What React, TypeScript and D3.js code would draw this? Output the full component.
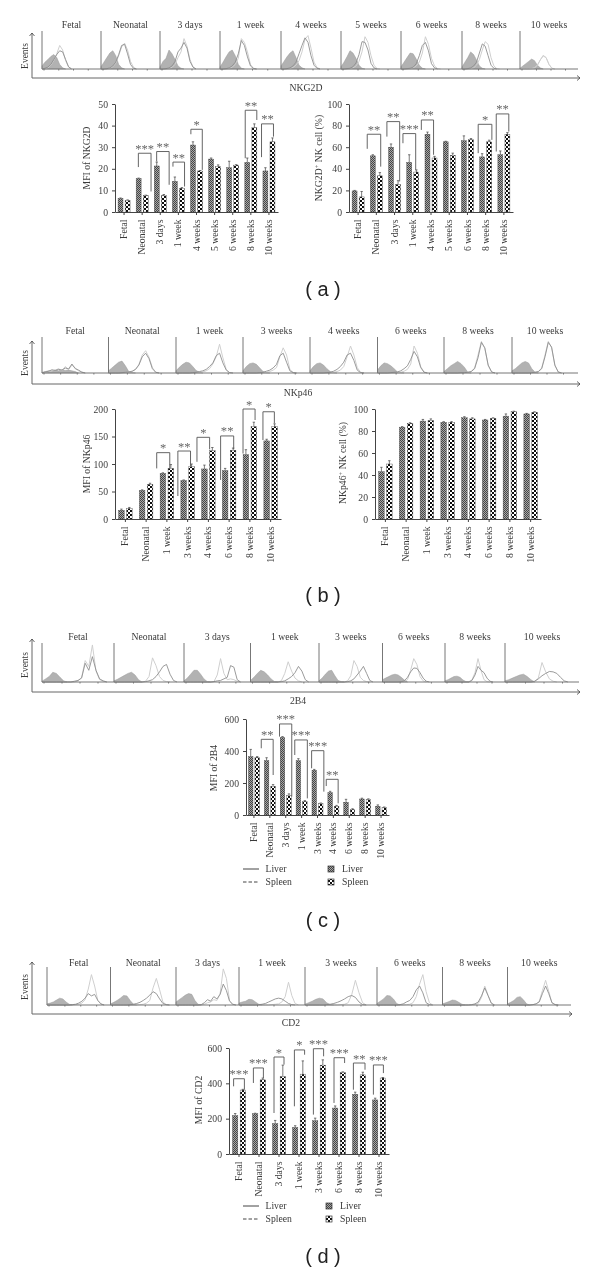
import { useEffect, useRef } from "react";
import * as d3 from "d3";

const SERIF = "'Liberation Serif', serif";
const INK = "#3a3a3a";

// ---- flow cytometry strips (heights in % of panel height, one value per 5% of panel width)
const aTitles = ["Fetal", "Neonatal", "3 days", "1 week", "4 weeks", "5 weeks", "6 weeks", "8 weeks", "10 weeks"];
const aControl = [
  [8, 18, 25, 33, 38, 30, 12, 3, 0],
  [6, 18, 30, 42, 48, 35, 12, 3, 0],
  [5, 20, 28, 50, 40, 25, 8, 2, 0],
  [5, 18, 32, 45, 50, 35, 12, 2, 0],
  [8, 20, 32, 42, 48, 30, 10, 3, 0],
  [6, 18, 32, 48, 42, 28, 10, 2, 0],
  [6, 18, 30, 42, 40, 26, 10, 2, 0],
  [5, 18, 30, 45, 38, 24, 8, 2, 0],
  [2, 8, 14, 20, 26, 22, 10, 3, 0],
];
const aLiver = [
  [0, 2, 5, 12, 25, 38, 48, 45, 25, 6, 0],
  [0, 0, 1, 3, 8, 18, 38, 62, 65, 40, 12, 2, 0],
  [0, 0, 1, 3, 8, 20, 45, 55, 70, 55, 20, 5, 0],
  [0, 0, 1, 3, 8, 18, 40, 75, 62, 32, 8, 1, 0],
  [0, 0, 1, 3, 8, 18, 40, 62, 82, 70, 35, 10, 2, 0],
  [0, 0, 1, 2, 6, 16, 38, 72, 70, 50, 15, 3, 0],
  [0, 0, 1, 2, 5, 14, 35, 62, 70, 48, 14, 3, 0],
  [0, 0, 1, 3, 8, 18, 42, 66, 60, 35, 10, 2, 0],
  [0, 0, 0, 0, 1, 3, 10, 24, 34, 30, 12, 2, 0],
];
const aSpleen = [
  [0, 0, 3, 10, 22, 40, 62, 50, 22, 5, 1],
  [0, 0, 0, 2, 6, 15, 35, 58, 68, 50, 20, 5, 0],
  [0, 0, 0, 2, 4, 12, 30, 45, 80, 60, 25, 5, 0],
  [0, 0, 0, 2, 5, 12, 28, 80, 70, 45, 12, 2, 0],
  [0, 0, 0, 1, 4, 10, 22, 45, 78, 88, 55, 18, 4, 0],
  [0, 0, 0, 1, 3, 8, 20, 45, 85, 70, 35, 10, 1, 0],
  [0, 0, 0, 1, 3, 8, 18, 42, 85, 65, 28, 8, 1, 0],
  [0, 0, 0, 1, 3, 10, 25, 50, 72, 65, 30, 8, 1, 0],
  [0, 0, 0, 0, 1, 3, 10, 24, 36, 30, 12, 2, 0],
];

const bTitles = ["Fetal", "Neonatal", "1 week", "3 weeks", "4 weeks", "6 weeks", "8 weeks", "10 weeks"];
const bControl = [
  [2, 4, 6, 5, 8, 6, 9, 7, 8, 6, 4, 0],
  [6, 14, 22, 30, 33, 20, 4, 1, 0],
  [6, 16, 24, 30, 28, 18, 7, 2, 0],
  [6, 18, 26, 28, 24, 14, 4, 1, 0],
  [6, 18, 26, 28, 22, 12, 4, 1, 0],
  [8, 20, 28, 26, 20, 12, 3, 1, 0],
  [4, 12, 20, 26, 32, 26, 16, 2, 0],
  [6, 12, 20, 28, 32, 28, 12, 2, 0],
];
const bLiver = [
  [0, 3, 5, 9, 7, 10, 8, 14, 11, 25, 12, 8, 2, 0],
  [0, 0, 0, 0, 1, 2, 3, 5, 10, 22, 45, 55, 40, 12, 2, 0],
  [0, 0, 0, 0, 0, 1, 2, 4, 6, 10, 18, 28, 48, 55, 28, 8, 1, 0],
  [0, 0, 0, 0, 0, 1, 2, 5, 8, 14, 24, 48, 55, 30, 6, 1, 0],
  [0, 0, 0, 0, 0, 1, 2, 5, 10, 18, 30, 50, 55, 35, 8, 1, 0],
  [0, 0, 0, 0, 1, 2, 3, 6, 12, 20, 38, 60, 45, 15, 2, 0],
  [0, 0, 0, 0, 0, 1, 1, 2, 4, 12, 42, 85, 70, 22, 3, 0],
  [0, 0, 0, 0, 0, 0, 1, 2, 4, 12, 45, 85, 72, 22, 3, 0],
];
const bSpleen = [
  [0, 2, 4, 6, 8, 12, 6, 18, 10, 22, 14, 6, 3, 0],
  [0, 0, 0, 0, 0, 1, 2, 4, 10, 24, 50, 62, 44, 15, 2, 0],
  [0, 0, 0, 0, 0, 0, 1, 2, 3, 6, 12, 25, 45, 80, 42, 10, 1, 0],
  [0, 0, 0, 0, 0, 0, 1, 2, 4, 8, 15, 45, 70, 50, 10, 1, 0],
  [0, 0, 0, 0, 0, 0, 1, 2, 4, 8, 18, 45, 75, 50, 15, 2, 0],
  [0, 0, 0, 0, 0, 0, 1, 2, 5, 10, 25, 75, 55, 18, 3, 0],
  [0, 0, 0, 0, 0, 0, 1, 2, 4, 14, 50, 88, 68, 20, 3, 0],
  [0, 0, 0, 0, 0, 0, 1, 2, 4, 14, 50, 88, 70, 20, 3, 0],
];

const cTitles = ["Fetal", "Neonatal", "3 days", "1 week", "3 weeks", "6 weeks", "8 weeks", "10 weeks"];
const cControl = [
  [2, 8, 14, 25, 22, 12, 3, 0],
  [3, 7, 12, 17, 22, 25, 18, 6, 0],
  [3, 10, 20, 30, 30, 20, 8, 1, 0],
  [4, 12, 22, 30, 26, 18, 8, 1, 0],
  [3, 10, 20, 28, 30, 16, 4, 1, 0],
  [6, 10, 14, 18, 20, 18, 12, 5, 0],
  [3, 6, 10, 14, 15, 12, 5, 1, 0],
  [3, 6, 10, 14, 18, 20, 14, 6, 0],
];
const cLiver = [
  [0, 0, 0, 0, 0, 0, 0, 0, 0, 2, 4, 10, 48, 30, 65, 30, 8, 3, 0],
  [0, 0, 0, 0, 0, 0, 0, 0, 0, 1, 3, 6, 14, 26, 40, 45, 20, 4, 0],
  [0, 0, 0, 0, 0, 0, 0, 0, 0, 1, 3, 4, 8, 12, 42, 38, 6, 0],
  [0, 0, 0, 0, 0, 0, 0, 0, 0, 1, 3, 8, 14, 24, 40, 28, 6, 0],
  [0, 0, 0, 0, 0, 0, 0, 0, 0, 1, 3, 8, 18, 28, 40, 22, 4, 0],
  [0, 0, 0, 0, 0, 0, 1, 3, 12, 26, 36, 35, 24, 10, 2, 0],
  [0, 0, 0, 0, 0, 0, 0, 0, 0, 4, 18, 40, 30, 24, 10, 2, 0],
  [0, 0, 0, 0, 0, 0, 0, 0, 2, 8, 16, 22, 27, 26, 22, 12, 3, 0],
];
const cSpleen = [
  [0, 0, 0, 0, 0, 0, 0, 0, 0, 0, 3, 12, 55, 40, 95, 28, 6, 2, 0],
  [0, 0, 0, 0, 0, 0, 0, 0, 0, 2, 14, 62, 42, 14, 4, 1, 0],
  [0, 0, 0, 0, 0, 0, 0, 0, 0, 1, 18, 60, 22, 6, 8, 6, 2, 0],
  [0, 0, 0, 0, 0, 0, 0, 0, 0, 3, 22, 52, 28, 10, 3, 0],
  [0, 0, 0, 0, 0, 0, 0, 0, 0, 3, 16, 55, 40, 12, 4, 1, 0],
  [0, 0, 0, 0, 0, 0, 0, 1, 6, 30, 60, 45, 14, 3, 0],
  [0, 0, 0, 0, 0, 0, 0, 0, 1, 6, 24, 60, 30, 6, 1, 0],
  [0, 0, 0, 0, 0, 0, 0, 0, 1, 10, 50, 26, 8, 2, 0],
];

const dTitles = ["Fetal", "Neonatal", "3 days", "1 week", "3 weeks", "6 weeks", "8 weeks", "10 weeks"];
const dControl = [
  [3, 5, 8, 13, 18, 16, 8, 2, 0],
  [3, 7, 12, 18, 25, 24, 12, 2, 0],
  [8, 14, 20, 26, 30, 28, 12, 2, 0],
  [5, 8, 10, 15, 14, 8, 2, 0],
  [2, 6, 10, 15, 18, 16, 6, 1, 0],
  [4, 10, 16, 25, 24, 16, 4, 0],
  [3, 6, 9, 13, 12, 7, 2, 0],
  [3, 7, 12, 20, 22, 14, 3, 0],
];
const dLiver = [
  [0, 0, 0, 0, 0, 0, 0, 0, 1, 2, 5, 10, 18, 30, 24, 28, 12, 3, 0],
  [0, 0, 0, 0, 0, 0, 1, 2, 4, 7, 12, 18, 26, 35, 30, 16, 4, 1, 0],
  [0, 0, 0, 0, 0, 0, 0, 0, 1, 6, 14, 10, 22, 16, 28, 55, 38, 10, 2, 0],
  [0, 0, 0, 0, 0, 0, 1, 2, 4, 8, 12, 16, 18, 16, 10, 4, 1, 0],
  [0, 0, 0, 0, 0, 0, 1, 2, 4, 7, 11, 16, 22, 25, 20, 8, 1, 0],
  [0, 0, 0, 0, 0, 0, 0, 1, 3, 8, 12, 22, 40, 50, 32, 6, 1, 0],
  [0, 0, 0, 0, 0, 0, 0, 0, 0, 1, 3, 8, 24, 45, 25, 5, 0],
  [0, 0, 0, 0, 0, 0, 0, 0, 1, 3, 8, 30, 50, 30, 6, 1, 0],
];
const dSpleen = [
  [0, 0, 0, 0, 0, 0, 0, 0, 0, 1, 2, 5, 14, 42, 80, 50, 12, 2, 0],
  [0, 0, 0, 0, 0, 0, 0, 0, 0, 1, 2, 5, 12, 45, 70, 40, 8, 1, 0],
  [0, 0, 0, 0, 0, 0, 0, 0, 0, 2, 6, 8, 14, 12, 30, 95, 70, 12, 2, 0],
  [0, 0, 0, 0, 0, 0, 0, 0, 0, 0, 1, 2, 3, 8, 22, 60, 25, 4, 0],
  [0, 0, 0, 0, 0, 0, 0, 0, 0, 0, 1, 2, 6, 28, 65, 32, 6, 0],
  [0, 0, 0, 0, 0, 0, 0, 0, 0, 1, 2, 6, 22, 55, 80, 35, 6, 0],
  [0, 0, 0, 0, 0, 0, 0, 0, 0, 0, 1, 4, 20, 50, 26, 5, 0],
  [0, 0, 0, 0, 0, 0, 0, 0, 1, 3, 10, 38, 65, 36, 6, 1, 0],
];

// ---- bar charts: [value] and upward error per category
const a1Cats = ["Fetal", "Neonatal", "3 days", "1 week", "4 weeks", "5 weeks", "6 weeks", "8 weeks", "10 weeks"];
const a1Liver = [6.3, 15.5, 21.3, 14.2, 31, 24.5, 20.5, 23, 19];
const a1LiverErr = [0.2, 0.2, 1.8, 2, 1.5, 0.5, 3, 2, 1.5];
const a1Spleen = [5.3, 7.6, 7.6, 11, 19, 21, 21.7, 39, 32.5];
const a1SpleenErr = [0.3, 0.2, 0.5, 0.3, 0.2, 0.8, 0.2, 1.8, 1.8];
// left pos, right pos (in category units), top value, left foot, right foot, stars
const a1Brackets = [
  [1.29, 1.99, 27.2, 20.8, 9.5, "***"],
  [2.3, 2.99, 28, 23.4, 12.6, "**"],
  [3.2, 3.84, 23.1, 21, 11.8, "**"],
  [4.19, 4.82, 38.3, 36, 19.5, "*"],
  [7.19, 7.83, 47.1, 24.9, 42.6, "**"],
  [8.09, 8.75, 40.8, 25.4, 34.9, "**"],
];

const a2Liver = [19.5, 52, 60, 46, 72, 65, 66, 51, 53];
const a2LiverErr = [0.5, 1, 3, 7, 2, 0.5, 4.5, 3, 3.5];
const a2Spleen = [14, 33.5, 25.5, 37, 50, 52.5, 67, 65, 72];
const a2SpleenErr = [5, 3, 3.5, 2, 1.5, 2, 1, 1.5, 1.5];
const a2Brackets = [
  [1.0, 1.74, 72, 58.5, 42, "**"],
  [2.08, 2.78, 83.7, 69.8, 28.3, "**"],
  [2.96, 3.66, 72.6, 63.7, 39, "***"],
  [3.97, 4.64, 85.2, 76, 53, "**"],
  [7.09, 7.84, 81.2, 54.5, 66.8, "*"],
  [8.08, 8.77, 90.8, 56, 74.5, "**"],
];

const b1Cats = ["Fetal", "Neonatal", "1 week", "3 weeks", "4 weeks", "6 weeks", "8 weeks", "10 weeks"];
const b1Liver = [16, 52, 83, 70, 91, 88, 117, 142];
const b1LiverErr = [2, 1, 1, 1, 7, 4, 9, 3];
const b1Spleen = [19, 63, 92, 95, 124, 125, 168, 168];
const b1SpleenErr = [2, 2, 7, 5, 6, 4, 8, 5];
const b1Brackets = [
  [2.01, 2.64, 120.6, 92, 92, "*"],
  [3.03, 3.64, 123.6, 41.8, 96, "**"],
  [3.95, 4.56, 148.5, 104, 126.7, "*"],
  [5.09, 5.72, 151, 71, 126.7, "**"],
  [6.17, 6.75, 200, 119, 180, "*"],
  [7.13, 7.68, 195, 143.6, 174, "*"],
];

const b2Liver = [43, 83.5, 89, 88, 92, 90, 93.5, 95.5];
const b2LiverErr = [4, 0.5, 1.5, 0.5, 1, 0.5, 2, 0.5];
const b2Spleen = [50, 87, 89.5, 88, 91, 91.5, 97.5, 97];
const b2SpleenErr = [3, 0.5, 1.5, 0.5, 1, 0.5, 0.5, 0.5];

const cCats = ["Fetal", "Neonatal", "3 days", "1 week", "3 weeks", "4 weeks", "6 weeks", "8 weeks", "10 weeks"];
const cLiverBars = [365, 340, 485, 340, 280, 140, 80, 100, 55];
const cLiverErr = [45, 18, 5, 12, 5, 8, 18, 5, 8];
const cSpleenBars = [360, 180, 120, 85, 70, 55, 35, 95, 45];
const cSpleenErr = [5, 10, 12, 5, 5, 5, 4, 6, 5];
const cBrackets = [
  [0.96, 1.71, 473, 417, 250, "**"],
  [2.11, 2.88, 569, 490, 115, "***"],
  [3.07, 3.86, 469, 375, 104, "***"],
  [4.13, 4.9, 402, 292, 146, "***"],
  [5.05, 5.8, 223, 181, 73, "**"],
];

const dCats = ["Fetal", "Neonatal", "3 days", "1 week", "3 weeks", "6 weeks", "8 weeks", "10 weeks"];
const dLiverBars = [217, 228, 172, 150, 188, 260, 338, 306];
const dLiverErr = [12, 3, 18, 10, 15, 12, 12, 10];
const dSpleenBars = [362, 420, 438, 452, 503, 460, 448, 430];
const dSpleenErr = [4, 10, 65, 75, 30, 5, 15, 3];
const dBrackets = [
  [0.23, 0.77, 426, 383, 364, "***"],
  [1.22, 1.72, 487, 402, 430, "***"],
  [2.25, 2.75, 549, 232, 506, "*"],
  [3.27, 3.78, 589, 270, 562, "*"],
  [4.22, 4.73, 596, 223, 553, "***"],
  [5.25, 5.78, 545, 289, 515, "***"],
  [6.22, 6.8, 515, 364, 477, "**"],
  [7.22, 7.72, 504, 336, 458, "***"],
];

const series = ["Liver", "Spleen"];

function drawStrip(svg, o) {
  const g = svg.append("g");
  const marks = g.append("g").attr("filter", "url(#soft)");
  o.xs.forEach((px, i) => {
    const right = i < o.xs.length - 1 ? o.xs[i + 1] : o.end;
    const x = d3.scaleLinear().domain([0, 100]).range([px, right]);
    const y = d3.scaleLinear().domain([0, 100]).range([o.base, o.top]);
    const xi = (_, k) => x(k * 5);
    const area = d3.area().x(xi).y0(o.base).y1((v) => y(v));
    const line = d3.line().x(xi).y((v) => y(v));
    marks.append("path").attr("d", area(o.control[i])).attr("fill", "#b2b2b2").attr("stroke", "#999").attr("stroke-width", 0.5);
    marks.append("path").attr("d", line(o.spleen[i])).attr("fill", "none").attr("stroke", "#cfcfcf").attr("stroke-width", 1);
    marks.append("path").attr("d", line(o.liver[i])).attr("fill", "none").attr("stroke", o.lightLast && i === o.xs.length - 1 ? "#cfcfcf" : "#8f8f8f").attr("stroke-width", 0.9);
    // panel axes
    g.append("line").attr("x1", px).attr("x2", px).attr("y1", o.top).attr("y2", o.base).attr("stroke", "#777");
    g.append("line").attr("x1", px).attr("x2", right).attr("y1", o.base).attr("y2", o.base).attr("stroke", "#777");
    g.selectAll(null)
      .data([0, 25, 50, 75])
      .enter()
      .append("line")
      .attr("x1", (d) => x(d) + 2)
      .attr("x2", (d) => x(d) + 2)
      .attr("y1", o.base)
      .attr("y2", o.base + 1.5)
      .attr("stroke", "#777");
    g.append("text")
      .attr("x", (px + right) / 2)
      .attr("y", o.titleY)
      .attr("text-anchor", "middle")
      .attr("dy", "0.32em")
      .attr("font-family", SERIF)
      .attr("font-size", 9.7)
      .attr("fill", INK)
      .text(o.titles[i]);
  });
  // shared event / marker arrows
  g.append("path")
    .attr("d", `M32,${o.arrowTop}V${o.axisY}H${o.axisEnd}`)
    .attr("fill", "none")
    .attr("stroke", "#666")
    .attr("stroke-width", 1);
  g.append("path")
    .attr("d", `M29.5,${o.arrowTop + 3}L32,${o.arrowTop}L34.5,${o.arrowTop + 3}M${o.axisEnd - 3},${o.axisY - 2.5}L${o.axisEnd},${o.axisY}L${o.axisEnd - 3},${o.axisY + 2.5}`)
    .attr("fill", "none")
    .attr("stroke", "#444")
    .attr("stroke-width", 0.8);
  g.append("text")
    .attr("transform", `translate(25,${o.eventsY}) rotate(-90)`)
    .attr("text-anchor", "middle")
    .attr("dy", "0.32em")
    .attr("font-family", SERIF)
    .attr("font-size", 9.5)
    .attr("fill", INK)
    .text("Events");
  g.append("text")
    .attr("x", o.labelX)
    .attr("y", o.labelY)
    .attr("text-anchor", "middle")
    .attr("dy", "0.32em")
    .attr("font-family", SERIF)
    .attr("font-size", 9.7)
    .attr("fill", INK)
    .text(o.label);
}

function drawBars(svg, o) {
  const g = svg.append("g");
  const x = d3.scaleBand().domain(o.cats).range([o.x0, o.x1]);
  const pos = d3.scaleLinear().domain([0, o.cats.length]).range([o.x0, o.x1]);
  const y = d3.scaleLinear().domain([0, o.max]).range([o.y0, o.yTop]);
  const inner = d3.scaleBand().domain(series).range([-o.pair / 2, o.pair / 2]).paddingInner(0.3);

  series.forEach((s, k) => {
    const vals = k === 0 ? o.liver : o.spleen;
    const errs = k === 0 ? o.liverErr : o.spleenErr;
    const cx = (i) => x(o.cats[i]) + x.bandwidth() / 2 + inner(s) + inner.bandwidth() / 2;
    const grp = g.append("g");
    grp.selectAll("line.err")
      .data(vals)
      .enter()
      .append("path")
      .attr("d", (d, i) => `M${cx(i)},${y(d)}V${y(d + errs[i])}M${cx(i) - 1.2},${y(d + errs[i])}H${cx(i) + 1.2}`)
      .attr("fill", "none")
      .attr("stroke", "#444")
      .attr("stroke-width", 0.7);
    grp.append("g")
      .attr("filter", "url(#softer)")
      .selectAll("rect")
      .data(vals)
      .enter()
      .append("rect")
      .attr("x", (d, i) => cx(i) - inner.bandwidth() / 2)
      .attr("y", (d) => y(d))
      .attr("width", inner.bandwidth())
      .attr("height", (d) => y(0) - y(d))
      .attr("fill", k === 0 ? "url(#liverFill)" : "url(#spleenFill)")
      .attr("stroke", "#444")
      .attr("stroke-width", 0.4);
  });

  const yAxis = g.append("g")
    .attr("transform", `translate(${o.x0},0)`)
    .call(d3.axisLeft(y).tickValues(d3.range(0, o.max + 1, o.step)).tickSize(3).tickPadding(4).tickSizeOuter(0));
  const xAxis = g.append("g")
    .attr("transform", `translate(0,${o.y0})`)
    .call(d3.axisBottom(x).tickSize(3).tickSizeOuter(0));
  [yAxis, xAxis].forEach((a) => {
    a.attr("font-family", SERIF).attr("font-size", 9.7);
    a.selectAll("path,line").attr("stroke", "#444");
    a.selectAll("text").attr("fill", INK);
  });
  xAxis.selectAll("text")
    .attr("transform", "rotate(-90)")
    .attr("x", -7.5)
    .attr("y", 0)
    .attr("dy", "0.32em")
    .style("text-anchor", "end");

  // significance brackets
  (o.brackets || []).forEach(([l, r, top, footL, footR, stars]) => {
    g.append("path")
      .attr("d", `M${pos(l)},${y(footL)}V${y(top)}H${pos(r)}V${y(footR)}`)
      .attr("fill", "none")
      .attr("stroke", "#555")
      .attr("stroke-width", 0.9);
    g.append("text")
      .attr("x", (pos(l) + pos(r)) / 2)
      .attr("y", y(top) - 0.5)
      .attr("text-anchor", "middle")
      .attr("font-family", SERIF)
      .attr("font-size", 12.6)
      .attr("fill", "#666")
      .text(stars);
  });

  // y title, superscript when asked
  const title = g.append("text")
    .attr("transform", `translate(${o.titleX},${o.titleY}) rotate(-90)`)
    .attr("text-anchor", "middle")
    .attr("dy", "0.32em")
    .attr("font-family", SERIF)
    .attr("font-size", 9.7)
    .attr("fill", INK);
  title.append("tspan").text(o.title[0]);
  if (o.title[1]) {
    title.append("tspan").attr("font-size", 6.5).attr("dy", "-3").text("+");
    title.append("tspan").attr("dy", "3").text(o.title[1]);
  }
}

function drawLegend(svg, o) {
  const g = svg.append("g").attr("font-family", SERIF).attr("font-size", 9.7).attr("fill", INK);
  series.forEach((s, i) => {
    const yy = o.y + i * 13;
    g.append("line")
      .attr("x1", o.lineX)
      .attr("x2", o.lineX + 16)
      .attr("y1", yy)
      .attr("y2", yy)
      .attr("stroke", "#444")
      .attr("stroke-dasharray", i === 0 ? null : "3.5 2");
    g.append("text").attr("x", o.lineX + 22.5).attr("y", yy).attr("dy", "0.32em").text(s);
    g.append("rect")
      .attr("x", o.boxX)
      .attr("y", yy - 3)
      .attr("width", 6)
      .attr("height", 6)
      .attr("fill", i === 0 ? "url(#liverFill)" : "url(#spleenFill)")
      .attr("stroke", "#333")
      .attr("stroke-width", 0.7);
    g.append("text").attr("x", o.boxX + 14).attr("y", yy).attr("dy", "0.32em").text(s);
  });
}

function drawTag(svg, text, y) {
  svg.append("text")
    .attr("x", 323)
    .attr("y", y)
    .attr("text-anchor", "middle")
    .attr("dy", "0.32em")
    .attr("font-family", "'Liberation Sans', sans-serif")
    .attr("font-size", 20)
    .attr("fill", "#222")
    .text(text);
}

export default function App() {
  const svgRef = useRef(null);

  useEffect(() => {
    const svg = d3.select(svgRef.current);
    svg.selectAll("*").remove();

    const defs = svg.append("defs");
    defs.append("filter").attr("id", "soft").append("feGaussianBlur").attr("stdDeviation", 0.35);
    defs.append("filter").attr("id", "softer").append("feGaussianBlur").attr("stdDeviation", 0.25);
    const liver = defs.append("pattern").attr("id", "liverFill").attr("patternUnits", "userSpaceOnUse").attr("width", 2).attr("height", 2);
    liver.append("rect").attr("width", 2).attr("height", 2).attr("fill", "#a8a8a8");
    liver.append("rect").attr("width", 1).attr("height", 1).attr("fill", "#444");
    liver.append("rect").attr("x", 1).attr("y", 1).attr("width", 1).attr("height", 1).attr("fill", "#444");
    const spleen = defs.append("pattern").attr("id", "spleenFill").attr("patternUnits", "userSpaceOnUse").attr("width", 4).attr("height", 4);
    spleen.append("rect").attr("width", 4).attr("height", 4).attr("fill", "#fff");
    spleen.append("rect").attr("width", 2).attr("height", 2).attr("fill", "#111");
    spleen.append("rect").attr("x", 2).attr("y", 2).attr("width", 2).attr("height", 2).attr("fill", "#111");

    drawStrip(svg, {
      titles: aTitles, control: aControl, liver: aLiver, spleen: aSpleen, lightLast: true,
      xs: [42, 101, 160, 220, 281, 341, 401, 462, 520], end: 578,
      top: 31, base: 69, axisY: 78, arrowTop: 33, axisEnd: 580, eventsY: 56, titleY: 25,
      label: "NKG2D", labelX: 306, labelY: 87.5,
    });
    drawBars(svg, {
      cats: a1Cats, liver: a1Liver, liverErr: a1LiverErr, spleen: a1Spleen, spleenErr: a1SpleenErr, brackets: a1Brackets,
      x0: 115, x1: 278, y0: 212, yTop: 104, max: 50, step: 10, pair: 12,
      title: ["MFI of NKG2D"], titleX: 87, titleY: 158,
    });
    drawBars(svg, {
      cats: a1Cats, liver: a2Liver, liverErr: a2LiverErr, spleen: a2Spleen, spleenErr: a2SpleenErr, brackets: a2Brackets,
      x0: 349, x1: 513, y0: 212, yTop: 104, max: 100, step: 20, pair: 12,
      title: ["NKG2D", " NK cell (%)"], titleX: 319, titleY: 158,
    });
    drawTag(svg, "( a )", 290);

    drawStrip(svg, {
      titles: bTitles, control: bControl, liver: bLiver, spleen: bSpleen,
      xs: [42, 108.5, 176, 243, 310, 377.5, 444, 512], end: 578,
      top: 337, base: 373, axisY: 384, arrowTop: 341, axisEnd: 580, eventsY: 363, titleY: 331,
      label: "NKp46", labelX: 298, labelY: 393,
    });
    drawBars(svg, {
      cats: b1Cats, liver: b1Liver, liverErr: b1LiverErr, spleen: b1Spleen, spleenErr: b1SpleenErr, brackets: b1Brackets,
      x0: 115, x1: 281, y0: 519, yTop: 409, max: 200, step: 50, pair: 13.5,
      title: ["MFI of NKp46"], titleX: 87, titleY: 464,
    });
    drawBars(svg, {
      cats: b1Cats, liver: b2Liver, liverErr: b2LiverErr, spleen: b2Spleen, spleenErr: b2SpleenErr,
      x0: 375, x1: 541, y0: 519, yTop: 409, max: 100, step: 20, pair: 13.5,
      title: ["NKp46", " NK cell (%)"], titleX: 343, titleY: 463,
    });
    drawTag(svg, "( b )", 596);

    drawStrip(svg, {
      titles: cTitles, control: cControl, liver: cLiver, spleen: cSpleen,
      xs: [42, 114, 184, 250.5, 319, 382.5, 445, 505], end: 579,
      top: 643, base: 682, axisY: 692, arrowTop: 639, axisEnd: 580, eventsY: 665, titleY: 637,
      label: "2B4", labelX: 298, labelY: 701,
    });
    drawBars(svg, {
      cats: cCats, liver: cLiverBars, liverErr: cLiverErr, spleen: cSpleenBars, spleenErr: cSpleenErr, brackets: cBrackets,
      x0: 246, x1: 389, y0: 815, yTop: 719, max: 600, step: 200, pair: 11,
      title: ["MFI of 2B4"], titleX: 214, titleY: 768,
    });
    drawLegend(svg, { y: 869, lineX: 243, boxX: 328 });
    drawTag(svg, "( c )", 921);

    drawStrip(svg, {
      titles: dTitles, control: dControl, liver: dLiver, spleen: dSpleen,
      xs: [47, 110.5, 176, 239, 305, 377, 442.5, 507.5], end: 571,
      top: 967, base: 1005, axisY: 1014, arrowTop: 962, axisEnd: 572, eventsY: 987, titleY: 963,
      label: "CD2", labelX: 291, labelY: 1022.5,
    });
    drawBars(svg, {
      cats: dCats, liver: dLiverBars, liverErr: dLiverErr, spleen: dSpleenBars, spleenErr: dSpleenErr, brackets: dBrackets,
      x0: 229, x1: 389, y0: 1154, yTop: 1048, max: 600, step: 200, pair: 13,
      title: ["MFI of CD2"], titleX: 199, titleY: 1100,
    });
    drawLegend(svg, { y: 1206, lineX: 243, boxX: 326 });
    drawTag(svg, "( d )", 1257);
  }, []);

  return (
    <svg
      ref={svgRef}
      width={600}
      height={1274}
      viewBox="0 0 600 1274"
      style={{ position: "absolute", left: 0, top: 0, background: "#fff", opacity: 0.999 }}
    />
  );
}
